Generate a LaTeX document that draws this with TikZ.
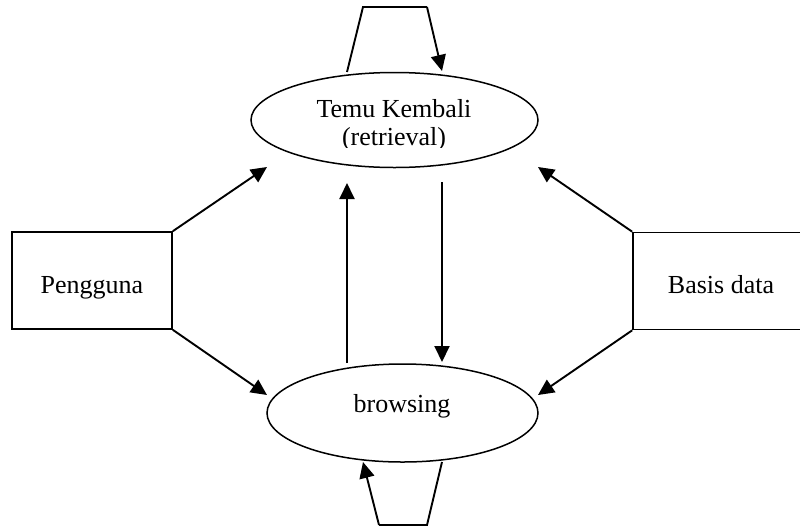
\documentclass[tikz,border=0pt]{standalone}
\usepackage{fontspec}
\setmainfont{Liberation Serif}
\usetikzlibrary{arrows.meta,shapes.geometric}
\begin{document}
\begin{tikzpicture}[x=1pt,y=-1pt,
  font=\fontsize{26}{30}\selectfont,
  box/.style={draw,line width=1.6pt,rectangle,inner sep=0pt,minimum width=160pt,minimum height=97pt,text height=30pt,text depth=5pt},
  oval/.style={draw,line width=1.5pt,ellipse,inner sep=0pt},
  label/.style={inner sep=0pt,anchor=base},
  flow/.style={line width=1.9pt,-{Triangle[length=16pt,width=15pt]}},
  loopline/.style={line width=1.9pt,line join=miter}]
\useasboundingbox (0,0) rectangle (800,528);

% processes
\node[oval,minimum width=287pt,minimum height=95pt] (retr) at (394.5,120) {};
\node[label] (retrtext) at (394,117) {Temu Kembali};
\begin{scope}
  \clip (250,60) rectangle (540,147.5);
  \node[label] (retrsub) at (394,145) {(retrieval)};
\end{scope}
\node[oval,minimum width=271pt,minimum height=98pt] (brws) at (402.5,413) {};
\node[label] (brwstext) at (402,412) {browsing};

% external entities
\node[box] (user) at (92,280.5) {Pengguna\hspace{15pt}};
\node[box,minimum width=176pt] (db) at (721,281) {Basis data};

% arrow end points near the ovals
\coordinate (rtl) at (267,167);
\coordinate (rtr) at (538,167);
\coordinate (btl) at (267,395);
\coordinate (btr) at (538,395);
\coordinate (upS) at (347,363);
\coordinate (upE) at (347,183);
\coordinate (dnS) at (442,182);
\coordinate (dnE) at (442,362);

% flows between entities and processes
\draw[flow] (user.north east) -- (rtl);
\draw[flow] (user.south east) -- (btl);
\draw[flow] (db.north west) -- (rtr);
\draw[flow] (db.south west) -- (btr);
\draw[flow] (upS) -- (upE);
\draw[flow] (dnS) -- (dnE);

% self loops
\coordinate (tlA) at (347,72);
\coordinate (tlB) at (363,7);
\coordinate (tlC) at (427,7);
\coordinate (tlD) at (442,71);
\draw[loopline] (tlA) -- (tlB) -- (tlC);
\draw[flow] (tlC) -- (tlD);

\coordinate (blA) at (442,462);
\coordinate (blB) at (427,525);
\coordinate (blC) at (379,525);
\coordinate (blD) at (363,462);
\draw[loopline] (blA) -- (blB) -- (blC);
\draw[flow] (blC) -- (blD);
\end{tikzpicture}
\end{document}
